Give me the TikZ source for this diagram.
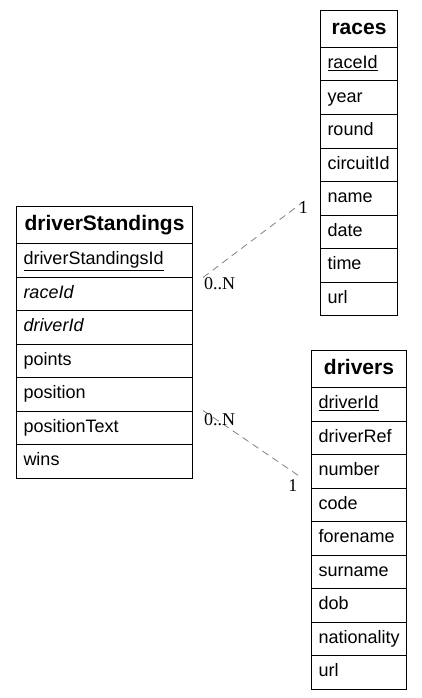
\documentclass[tikz,border=0pt]{standalone}
\usepackage{fontspec}
\setmainfont{Liberation Serif}
\setsansfont{Liberation Sans}
\usetikzlibrary{positioning}

\begin{document}
\begin{tikzpicture}[x=1pt,y=1pt,
		tblhead/.style={draw,line width=1pt,anchor=north west,inner sep=0pt,minimum height=37pt,align=center,text height=15pt,text depth=4pt,font=\sffamily\bfseries\fontsize{21}{24}\selectfont},
		tblrow/.style={draw,line width=1pt,anchor=north west,inner xsep=7pt,inner ysep=0pt,minimum height=33.5pt,align=left,text height=13pt,text depth=4pt,font=\sffamily\fontsize{18}{21}\selectfont},
		relation/.style={gray,line width=0.8pt,dash pattern=on 7pt off 5pt},
		mult/.style={inner sep=0pt,font=\fontsize{18}{20}\selectfont}]
		\useasboundingbox (0,0) rectangle (421,-698);
		% driverStandings table
		\node[tblhead,text width=176pt] (ds) at (16,-206) {driverStandings};
		\foreach \f [count=\i] in {\underline{driverStandingsId},\textit{raceId},\textit{driverId},points,position,positionText,wins}
		\node[tblrow,text width=162pt] (ds\i) at (16,{-243-33.5*(\i-1)}) {\f};
		% races table
		\node[tblhead,text width=77pt] (races) at (320,-10) {races};
		\foreach \f [count=\i] in {\underline{raceId},year,round,circuitId,name,date,time,url}
		\node[tblrow,text width=63pt] (races\i) at (320,{-47-33.5*(\i-1)}) {\f};
		% drivers table
		\node[tblhead,text width=95pt] (drivers) at (311,-350) {drivers};
		\foreach \f [count=\i] in {\underline{driverId},driverRef,number,code,forename,surname,dob,nationality,url}
		\node[tblrow,text width=81pt] (drivers\i) at (311,{-387-33.5*(\i-1)}) {\f};
		% relations
		\coordinate (raceTail) at ([xshift=10pt]ds1.south east);
		\coordinate (raceHead) at ([xshift=-12pt]races5.west);
		\draw[relation] (raceTail) -- (raceHead);
		\node[mult,anchor=north west] (raceMany) at ([xshift=1pt]raceTail) {0..N};
		\node[mult,anchor=north east] (raceOne) at ([yshift=-3pt]raceHead) {1};
		\coordinate (driverTail) at ([xshift=10pt]ds6.north east);
		\coordinate (driverHead) at ([xshift=-11.5pt,yshift=-5pt]drivers3.west);
		\draw[relation] (driverTail) -- (driverHead);
		\node[mult,anchor=north west] (driverMany) at ([xshift=1pt,yshift=-2.5pt]driverTail) {0..N};
		\node[mult,anchor=north east] (driverOne) at ([xshift=-2pt,yshift=-3pt]driverHead) {1};
\end{tikzpicture}
\end{document}
